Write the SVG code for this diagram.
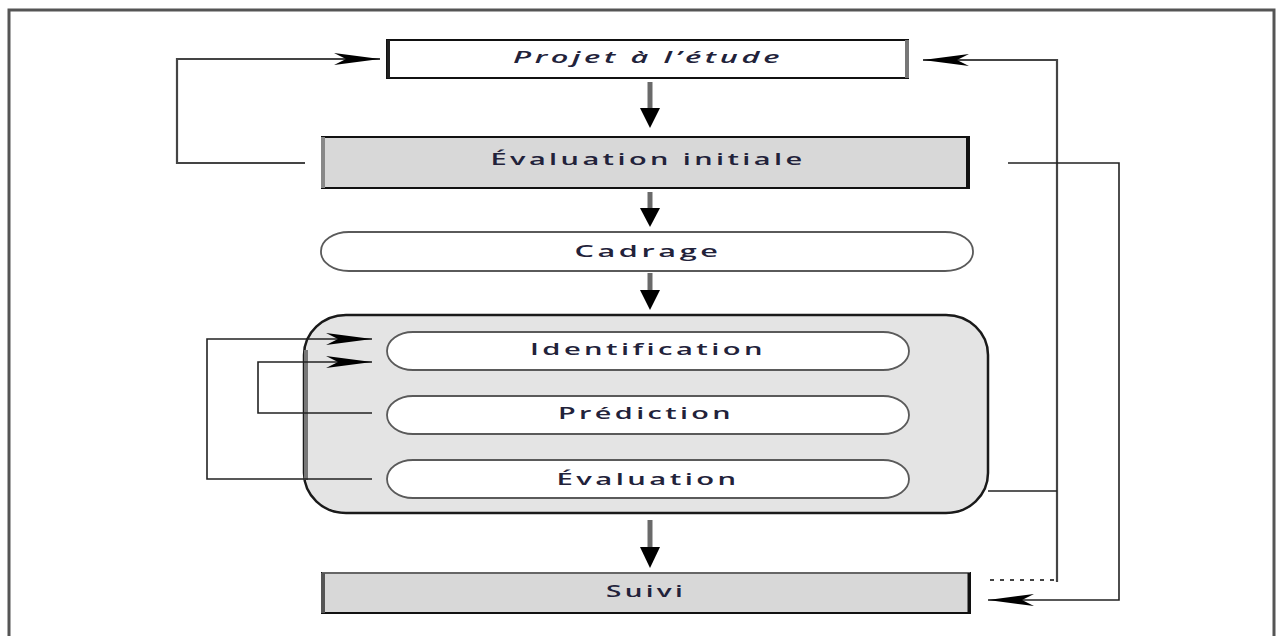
<svg xmlns="http://www.w3.org/2000/svg" width="1277" height="636" viewBox="0 0 1277 636">
<style>
.t{font-family:"Open Sans","DejaVu Sans","Liberation Sans",sans-serif;font-size:17px;font-weight:600;letter-spacing:2px;fill:#22223a;text-anchor:middle;}
.box{stroke:#111;stroke-width:2;}
.pill{fill:#fff;stroke:#5a5a5a;stroke-width:1.8;}
.ln{fill:none;stroke:#444;stroke-width:2.2;}
.lnd{fill:none;stroke:#222;stroke-width:1.6;}
.blk{fill:#000;}
.shaft{stroke:#6a6a6a;stroke-width:5;}
</style>
<defs>
<marker id="ah" markerUnits="userSpaceOnUse" viewBox="-46 -7 47 14" refX="0" refY="0" markerWidth="47" markerHeight="14" orient="auto">
<path d="M0,0 L-46,-6 L-34,0 L-46,6 Z" fill="#000"/>
</marker>
</defs>
<rect x="0" y="0" width="1277" height="636" fill="#fff"/>
<g id="frame">
<path d="M9,636 V10 H1274 V636" fill="none" stroke="#555" stroke-width="3"/>
</g>
<g id="projet">
<rect class="box" x="387" y="40" width="521" height="38" fill="#fff"/>
<line x1="388.5" y1="40" x2="388.5" y2="78" stroke="#222" stroke-width="3"/>
<line x1="907" y1="40" x2="907" y2="78" stroke="#777" stroke-width="4"/>
<text class="t" x="648" y="63" font-style="italic" textLength="270" lengthAdjust="spacingAndGlyphs">Projet à l’étude</text>
</g>
<g id="evaluation-initiale">
<rect class="box" x="322" y="137" width="647" height="51" fill="#d8d8d8"/>
<line x1="323" y1="137" x2="323" y2="188" stroke="#888" stroke-width="4"/>
<line x1="968" y1="137" x2="968" y2="188" stroke="#111" stroke-width="4"/>
<text class="t" x="648" y="165" textLength="315" lengthAdjust="spacingAndGlyphs">Évaluation initiale</text>
</g>
<g id="cadrage">
<rect class="pill" x="321" y="232" width="652" height="39" rx="28" ry="19"/>
<text class="t" x="648" y="257" textLength="147" lengthAdjust="spacingAndGlyphs">Cadrage</text>
</g>
<g id="groupe">
<rect x="304" y="315" width="684" height="198" rx="42" ry="40" fill="#e4e4e4" stroke="#1a1a1a" stroke-width="2.5"/>
<line x1="306" y1="350" x2="306" y2="480" stroke="#777" stroke-width="4"/>
</g>
<g id="identification">
<rect class="pill" x="387" y="332" width="522" height="38" rx="26" ry="19"/>
<text class="t" x="648" y="355" textLength="236" lengthAdjust="spacingAndGlyphs">Identification</text>
</g>
<g id="prediction">
<rect class="pill" x="387" y="396" width="522" height="38" rx="26" ry="19"/>
<text class="t" x="646" y="419" textLength="176" lengthAdjust="spacingAndGlyphs">Prédiction</text>
</g>
<g id="evaluation">
<rect class="pill" x="387" y="460" width="522" height="38" rx="26" ry="19"/>
<text class="t" x="648" y="485" textLength="183" lengthAdjust="spacingAndGlyphs">Évaluation</text>
</g>
<g id="suivi">
<rect x="322" y="573" width="648" height="40" fill="#d8d8d8" stroke="#111" stroke-width="2"/>
<line x1="322" y1="573" x2="970" y2="573" stroke="#666" stroke-width="2"/>
<line x1="323" y1="573" x2="323" y2="613" stroke="#555" stroke-width="4"/>
<line x1="969" y1="573" x2="969" y2="613" stroke="#111" stroke-width="3"/>
<text class="t" x="646" y="597" textLength="80" lengthAdjust="spacingAndGlyphs">Suivi</text>
</g>
<g id="connectors">
<line class="shaft" x1="650" y1="82" x2="650" y2="110"/>
<path class="blk" d="M640,108 H660 L650,128 Z"/>
<line class="shaft" x1="650" y1="192" x2="650" y2="210"/>
<path class="blk" d="M640,208 H660 L650,227 Z"/>
<line class="shaft" x1="650" y1="273" x2="650" y2="292"/>
<path class="blk" d="M640,290 H660 L650,310 Z"/>
<line class="shaft" x1="650" y1="520" x2="650" y2="549"/>
<path class="blk" d="M640,547 H660 L650,568 Z"/>
<path class="ln" d="M305,163 H177 V59 H380" marker-end="url(#ah)"/>
<path class="ln" d="M990,580 H1057" stroke-dasharray="4 6"/>
<path class="ln" d="M1057,582 V60 H923" marker-end="url(#ah)"/>
<path class="lnd" d="M988,491 H1057"/>
<path class="lnd" d="M1008,163 H1119 V600 H988" marker-end="url(#ah)"/>
<path class="lnd" d="M372,479 H207 V339 H372" marker-end="url(#ah)"/>
<path class="lnd" d="M372,413 H258 V362 H372" marker-end="url(#ah)"/>
</g>
</svg>
